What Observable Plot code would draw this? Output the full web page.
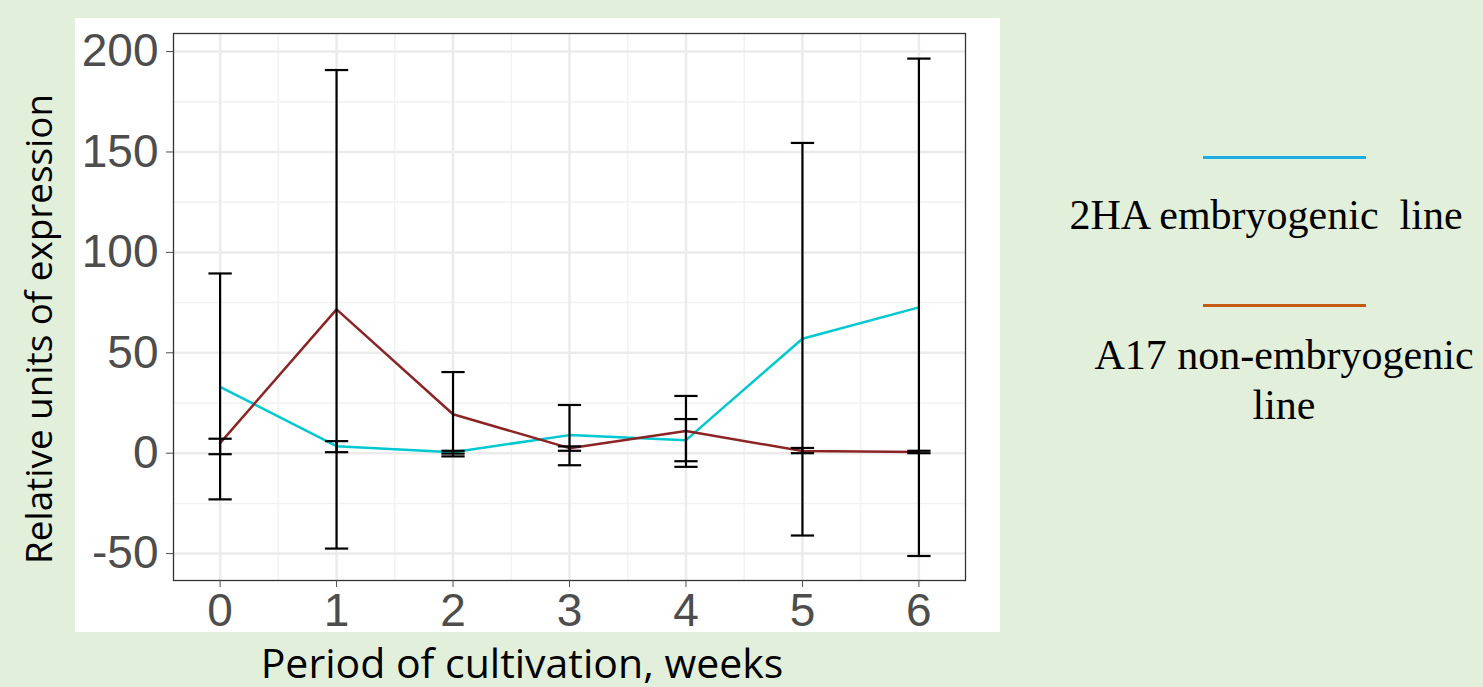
<!DOCTYPE html>
<html>
<head>
<meta charset="utf-8">
<script src="https://cdn.jsdelivr.net/npm/d3@7"></script>
<script src="https://cdn.jsdelivr.net/npm/@observablehq/plot@0.6"></script>
<style>
  html, body { margin: 0; padding: 0; }
  body { width: 1483px; height: 687px; background: #e2efda; position: relative; overflow: hidden; }
  #chart { position: absolute; left: 75px; top: 18px; }
  .ytitle { position: absolute; left: 38px; top: 329px; transform: translate(-50%, -50%) rotate(-90deg); white-space: nowrap;
            font-family: "Open Sans", sans-serif; font-size: 36.8px; line-height: 1; color: #000; }
  .xtitle { position: absolute; left: 522px; top: 662px; transform: translate(-50%, -50%); white-space: nowrap;
            font-family: "Open Sans", sans-serif; font-size: 41px; line-height: 1; color: #000; }
  .leg-line { position: absolute; left: 1203px; width: 163px; height: 3px; }
  .leg-text { position: absolute; transform: translate(-50%, -50%); white-space: nowrap; text-align: center;
              font-family: "Liberation Serif", "Times New Roman", serif; font-size: 42px; color: #000; line-height: 50px; }
</style>
</head>
<body>
<div id="chart"></div>
<div class="ytitle">Relative units of expression</div>
<div class="xtitle">Period of cultivation, weeks</div>
<div class="leg-line" style="top:156px;background:#1cade4"></div>
<div class="leg-text" style="left:1266px;top:215px">2HA embryogenic&nbsp; line</div>
<div class="leg-line" style="top:304px;background:#c55a11"></div>
<div class="leg-text" style="left:1284px;top:380px">A17 non-embryogenic<br>line</div>
<script>
const weeks = [0, 1, 2, 3, 4, 5, 6];
const yTicks = [-50, 0, 50, 100, 150, 200];
const yMinor = [-25, 25, 75, 125, 175];
const xMinor = [0.5, 1.5, 2.5, 3.5, 4.5, 5.5];
const seriesNames = ["2HA", "A17"];
const ha2Mean = [33, 3.5, 0.5, 9, 6.5, 57, 72.6];
const ha2Lo   = [-23, 0.5, -0.2, -6, -4, -41, -51.2];
const ha2Hi   = [89.5, 6, 1.2, 24, 17, 154.5, 196.5];
const a17Mean = [5, 71.6, 19.4, 2.5, 11, 1.1, 0.6];
const a17Lo   = [-0.5, -47.5, -1.6, 1.2, -6.8, 0, 0];
const a17Hi   = [7.2, 190.8, 40.4, 3.4, 28.5, 2.6, 1.2];

const data = [];
weeks.forEach((w, i) => {
  data.push({week: w, series: "2HA", mean: ha2Mean[i], lo: ha2Lo[i], hi: ha2Hi[i]});
  data.push({week: w, series: "A17", mean: a17Mean[i], lo: a17Lo[i], hi: a17Hi[i]});
});
const capHalf = 0.1;

const chart = Plot.plot({
  width: 925,
  height: 614,
  marginLeft: 98,
  marginTop: 15,
  marginRight: 35,
  marginBottom: 52,
  style: {background: "white", fontFamily: "'Liberation Sans', Arial, sans-serif", fontSize: "46px", overflow: "visible"},
  x: {domain: [-0.4, 6.4], label: null},
  y: {domain: [-63.4, 209], label: null},
  color: {domain: seriesNames, range: ["#00c8d0", "#8b2525"]},
  marks: [
    Plot.ruleX(xMinor, {stroke: "#f2f2f2", strokeWidth: 1.5}),
    Plot.ruleY(yMinor, {stroke: "#f2f2f2", strokeWidth: 1.5}),
    Plot.ruleX(weeks, {stroke: "#ebebeb", strokeWidth: 2.5}),
    Plot.ruleY(yTicks, {stroke: "#ebebeb", strokeWidth: 2.5}),
    Plot.line(data, {x: "week", y: "mean", z: "series", stroke: "series", strokeWidth: 2.5}),
    Plot.ruleX(data, {x: "week", y1: "lo", y2: "hi", stroke: "black", strokeWidth: 2.2}),
    Plot.link(data, {x1: d => d.week - capHalf, x2: d => d.week + capHalf, y1: "hi", y2: "hi", stroke: "black", strokeWidth: 2.2}),
    Plot.link(data, {x1: d => d.week - capHalf, x2: d => d.week + capHalf, y1: "lo", y2: "lo", stroke: "black", strokeWidth: 2.2}),
    Plot.frame({stroke: "#333", strokeWidth: 1.3}),
    Plot.axisY({ticks: yTicks, tickFormat: d => String(d), tickSize: 7, tickPadding: 8, color: "#4d4d4d", fontSize: 46, label: null}),
    Plot.axisX({ticks: weeks, tickFormat: d => String(d), tickSize: 7, tickPadding: 6, color: "#4d4d4d", fontSize: 46, label: null})
  ]
});
document.getElementById("chart").appendChild(chart);
</script>
</body>
</html>
